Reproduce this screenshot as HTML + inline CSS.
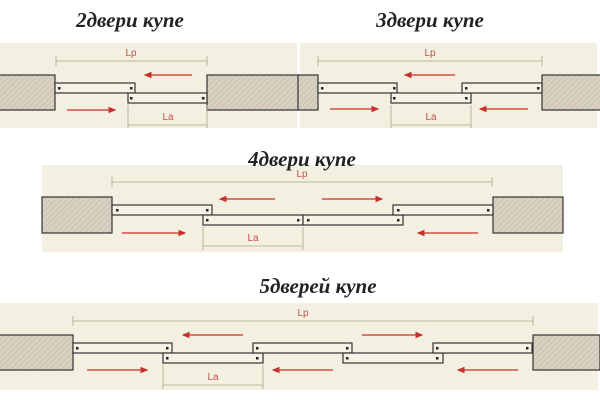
<!DOCTYPE html>
<html><head><meta charset="utf-8"><style>
html,body{margin:0;padding:0;background:#fff;width:600px;height:403px;overflow:hidden}
svg{display:block}
.t{font-family:"Liberation Serif",serif;font-style:italic;font-weight:bold;font-size:21px;fill:#222}
.l{font-family:"Liberation Sans",sans-serif;font-size:10px;fill:#c0504d}
</style></head><body>
<svg width="600" height="403" viewBox="0 0 600 403">
<defs>
<pattern id="h" width="4" height="4" patternUnits="userSpaceOnUse" patternTransform="rotate(45)">
<rect width="4" height="4" fill="#d8d1c2"/><line x1="0" y1="0" x2="0" y2="4" stroke="#c5bcab" stroke-width="1.5"/></pattern>
<marker id="a" markerWidth="6" markerHeight="6" refX="5" refY="3" orient="auto"><path d="M0,0.5 L6,3 L0,5.5z" fill="#c8302a"/></marker>
</defs>
<g fill="#f3f0e1">
<rect x="0" y="43" width="297" height="85"/>
<rect x="300" y="43" width="297" height="85"/>
<rect x="42" y="165" width="521" height="87"/>
<rect x="0" y="303" width="598" height="87"/>
</g>
<g fill="url(#h)" stroke="#333" stroke-width="1.2">
<rect x="-2" y="75" width="57" height="35"/><rect x="207" y="75" width="92" height="35"/>
<rect x="298" y="75" width="20" height="35"/><rect x="542" y="75" width="60" height="35"/>
<rect x="42" y="197" width="70" height="36"/><rect x="493" y="197" width="70" height="36"/>
<rect x="-2" y="335" width="75" height="35"/><rect x="533" y="335" width="67" height="35"/>
</g>
<g fill="#f6f3e6" stroke="#333" stroke-width="1.2">
<rect x="55" y="83" width="80" height="10"/><rect x="128" y="93" width="79" height="10"/>
<rect x="318" y="83" width="79" height="10"/><rect x="391" y="93" width="80" height="10"/><rect x="462" y="83" width="80" height="10"/>
<rect x="112" y="205" width="100" height="10"/><rect x="203" y="215" width="100" height="10"/><rect x="303" y="215" width="100" height="10"/><rect x="393" y="205" width="100" height="10"/>
<rect x="73" y="343" width="99" height="10"/><rect x="163" y="353" width="100" height="10"/><rect x="253" y="343" width="99" height="10"/><rect x="343" y="353" width="100" height="10"/><rect x="433" y="343" width="99" height="10"/>
</g>
<g stroke="#a8a888" stroke-width="0.8">
<line x1="56" y1="61" x2="207" y2="61"/><line x1="56" y1="56" x2="56" y2="66"/><line x1="207" y1="56" x2="207" y2="66"/>
<line x1="128" y1="125" x2="207" y2="125"/><line x1="128" y1="105" x2="128" y2="128"/><line x1="207" y1="105" x2="207" y2="128"/>
<line x1="318" y1="61" x2="542" y2="61"/><line x1="318" y1="56" x2="318" y2="66"/><line x1="542" y1="56" x2="542" y2="66"/>
<line x1="391" y1="125" x2="471" y2="125"/><line x1="391" y1="105" x2="391" y2="128"/><line x1="471" y1="105" x2="471" y2="128"/>
<line x1="112" y1="182" x2="492" y2="182"/><line x1="112" y1="177" x2="112" y2="187"/><line x1="492" y1="177" x2="492" y2="187"/>
<line x1="203" y1="246" x2="303" y2="246"/><line x1="203" y1="227" x2="203" y2="250"/><line x1="303" y1="227" x2="303" y2="250"/>
<line x1="73" y1="321" x2="533" y2="321"/><line x1="73" y1="316" x2="73" y2="326"/><line x1="533" y1="316" x2="533" y2="326"/>
<line x1="163" y1="385" x2="263" y2="385"/><line x1="163" y1="365" x2="163" y2="389"/><line x1="263" y1="365" x2="263" y2="389"/>
</g>
<g stroke="#c8302a" stroke-width="1.3" marker-end="url(#a)">
<line x1="192" y1="75" x2="145" y2="75"/><line x1="67" y1="110" x2="115" y2="110"/>
<line x1="455" y1="75" x2="405" y2="75"/><line x1="330" y1="109" x2="378" y2="109"/><line x1="528" y1="109" x2="480" y2="109"/>
<line x1="275" y1="199" x2="220" y2="199"/><line x1="322" y1="199" x2="382" y2="199"/><line x1="122" y1="233" x2="185" y2="233"/><line x1="478" y1="233" x2="418" y2="233"/>
<line x1="243" y1="335" x2="183" y2="335"/><line x1="362" y1="335" x2="422" y2="335"/><line x1="87" y1="370" x2="147" y2="370"/><line x1="333" y1="370" x2="273" y2="370"/><line x1="518" y1="370" x2="458" y2="370"/>
</g>
<g fill="#222">
<rect x="58" y="87" width="2.5" height="2.5"/><rect x="130" y="87" width="2.5" height="2.5"/><rect x="130" y="97" width="2.5" height="2.5"/><rect x="202" y="97" width="2.5" height="2.5"/>
<rect x="321" y="87" width="2.5" height="2.5"/><rect x="393" y="87" width="2.5" height="2.5"/><rect x="393" y="97" width="2.5" height="2.5"/><rect x="465" y="97" width="2.5" height="2.5"/><rect x="465" y="87" width="2.5" height="2.5"/><rect x="537" y="87" width="2.5" height="2.5"/>
<rect x="116" y="209" width="2.5" height="2.5"/><rect x="206" y="209" width="2.5" height="2.5"/><rect x="206" y="219" width="2.5" height="2.5"/><rect x="297" y="219" width="2.5" height="2.5"/><rect x="307" y="219" width="2.5" height="2.5"/><rect x="397" y="219" width="2.5" height="2.5"/><rect x="397" y="209" width="2.5" height="2.5"/><rect x="487" y="209" width="2.5" height="2.5"/>
<rect x="76" y="347" width="2.5" height="2.5"/><rect x="166" y="347" width="2.5" height="2.5"/><rect x="166" y="357" width="2.5" height="2.5"/><rect x="256" y="357" width="2.5" height="2.5"/><rect x="256" y="347" width="2.5" height="2.5"/><rect x="346" y="347" width="2.5" height="2.5"/><rect x="346" y="357" width="2.5" height="2.5"/><rect x="436" y="357" width="2.5" height="2.5"/><rect x="436" y="347" width="2.5" height="2.5"/><rect x="526" y="347" width="2.5" height="2.5"/>
</g>
<g class="l" text-anchor="middle">
<text x="131" y="56">Lp</text><text x="168" y="120">La</text>
<text x="430" y="56">Lp</text><text x="431" y="120">La</text>
<text x="302" y="177">Lp</text><text x="253" y="241">La</text>
<text x="303" y="316">Lp</text><text x="213" y="380">La</text>
</g>
<g class="t" text-anchor="middle">
<text x="130" y="27">2двери купе</text>
<text x="430" y="27">3двери купе</text>
<text x="302" y="166">4двери купе</text>
<text x="318" y="293">5дверей купе</text>
</g>
</svg>
</body></html>
